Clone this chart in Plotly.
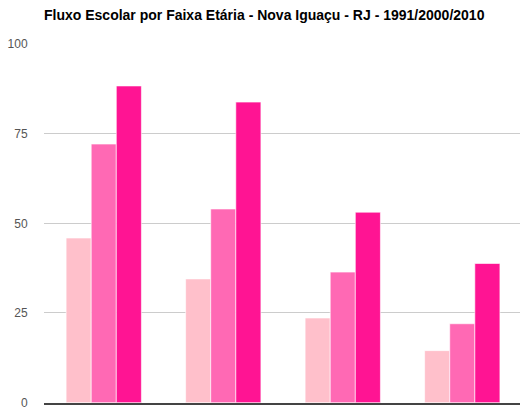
import plotly.graph_objects as go

# School-flow indicators by age group, Nova Iguaçu (RJ)
categories = [
    "5 a 6 anos na escola",
    "11 a 13 anos nos anos finais do fundamental",
    "15 a 17 anos com fundamental completo",
    "18 a 20 anos com médio completo",
]
years = ["1991", "2000", "2010"]
values_1991 = [45.9, 34.5, 23.6, 14.5]
values_2000 = [72.1, 54.0, 36.4, 22.0]
values_2010 = [88.3, 83.8, 53.1, 38.8]
colors = ["#FFC0CB", "#FF69B4", "#FF1493"]
y_ticks = [0, 25, 50, 75, 100]

series = [values_1991, values_2000, values_2010]

fig = go.Figure()
for year, vals, col in zip(years, series, colors):
    fig.add_trace(go.Bar(
        name=year,
        x=categories,
        y=vals,
        marker=dict(color=col, line=dict(color="rgba(255,255,255,0.6)", width=1)),
    ))

fig.update_layout(
    width=520,
    height=410,
    margin=dict(l=44, r=0, t=44, b=7),
    paper_bgcolor="white",
    plot_bgcolor="white",
    barmode="group",
    bargap=0.37,
    bargroupgap=0,
    showlegend=False,
    font=dict(family="Liberation Sans, Arial, sans-serif", color="#444"),
    title=dict(
        text="<b>Fluxo Escolar por Faixa Etária - Nova Iguaçu - RJ - 1991/2000/2010</b>",
        x=44 / 520, xanchor="left",
        y=1 - 15.5 / 410, yanchor="middle",
        font=dict(size=14, color="#000"),
    ),
    xaxis=dict(
        showticklabels=False,
        range=[-0.5, 3.483],
        showline=True,
        linecolor="#444",
        linewidth=1.5,
        showgrid=False,
        ticks="",
        fixedrange=True,
        automargin=False,
    ),
    yaxis=dict(
        range=[-0.1, 100],
        tickvals=y_ticks,
        ticktext=[str(v) for v in y_ticks],
        showgrid=True,
        gridcolor="#CCCCCC",
        gridwidth=1,
        zeroline=False,
        tickfont=dict(size=12, color="#555"),
        ticks="outside",
        ticklen=13,
        tickcolor="rgba(0,0,0,0)",
        fixedrange=True,
        automargin=False,
    ),
)

fig.write_html("out.html", config={"displayModeBar": False})
